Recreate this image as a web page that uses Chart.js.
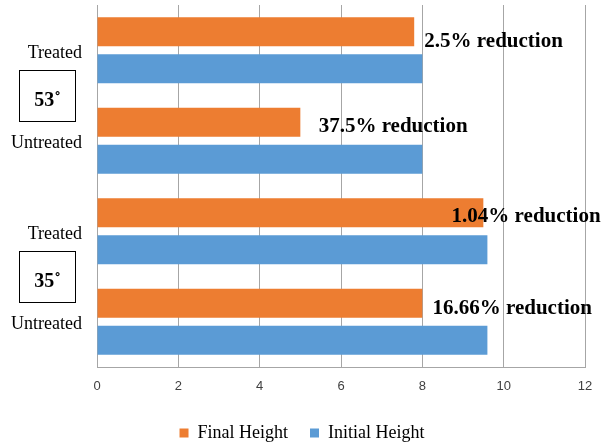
<!DOCTYPE html>
<html>
<head>
<meta charset="utf-8">
<script src="https://cdn.jsdelivr.net/npm/chart.js@4.4.1/dist/chart.umd.min.js"></script>
<style>
  html, body { margin: 0; padding: 0; background: #ffffff; }
  #wrap { width: 604px; height: 447px; }
</style>
</head>
<body>
<div id="wrap"><canvas id="c" width="604" height="447"></canvas></div>
<script>
// Plant heights before and after, per treatment and slope angle
const categories = ['Treated', 'Untreated', 'Treated', 'Untreated'];
const finalHeight = [7.8, 5, 9.5, 8];
const initialHeight = [8, 8, 9.6, 9.6];
const reductionLabels = ['2.5% reduction', '37.5% reduction', '1.04% reduction', '16.66% reduction'];
// where each reduction note starts, in axis units
const reductionAt = [8.05, 5.45, 8.72, 8.25];
// slope angle groups: each spans two categories
const angleGroups = ['53˚', '35˚'];
const xTicks = [0, 2, 4, 6, 8, 10, 12];

const serif = '"Liberation Serif", "Times New Roman", serif';
// vertical nudge of each note below its orange bar's centre (px)
const noteShift = [10, 4, 4, 5];

const notesPlugin = {
  id: 'notes',
  afterDatasetsDraw(chart) {
    const ctx = chart.ctx;
    const xs = chart.scales.x;
    const ys = chart.scales.y;
    const meta = chart.getDatasetMeta(0);
    ctx.save();
    ctx.fillStyle = '#000000';
    ctx.font = 'bold 21px ' + serif;
    ctx.textAlign = 'left';
    ctx.textBaseline = 'middle';
    reductionLabels.forEach((t, i) => {
      const bar = meta.data[i];
      ctx.fillText(t, xs.getPixelForValue(reductionAt[i]), bar.y + noteShift[i]);
    });
    // angle boxes on the left, between the two categories of each group
    ctx.font = 'bold 20px ' + serif;
    ctx.textAlign = 'center';
    ctx.strokeStyle = '#000000';
    ctx.lineWidth = 1;
    angleGroups.forEach((t, g) => {
      const yc = (ys.getPixelForValue(g * 2) + ys.getPixelForValue(g * 2 + 1)) / 2;
      const left = 19.5, w = 56, h = 51;
      ctx.strokeRect(left, Math.round(yc - h / 2) + 0.5, w, h);
      ctx.fillText(t, left + w / 2, yc + 5);
    });
    ctx.restore();
  }
};

new Chart(document.getElementById('c'), {
  type: 'bar',
  data: {
    labels: categories,
    datasets: [
      { label: 'Final Height', data: finalHeight, backgroundColor: '#ED7D31', categoryPercentage: 0.818, barPercentage: 0.784 },
      { label: 'Initial Height', data: initialHeight, backgroundColor: '#5B9BD5', categoryPercentage: 0.818, barPercentage: 0.784 }
    ]
  },
  options: {
    indexAxis: 'y',
    responsive: false,
    animation: false,
    layout: { padding: { left: 0, right: 0, top: 5, bottom: -5 } },
    scales: {
      x: {
        min: 0, max: 12,
        afterBuildTicks(scale) { scale.ticks = xTicks.map(v => ({ value: v })); },
        grid: { color: '#A6A6A6', lineWidth: 1, drawTicks: false },
        border: { display: true, color: '#A6A6A6' },
        ticks: { color: '#404040', font: { family: '"Liberation Sans", Arial, sans-serif', size: 13 }, padding: 12 },
        afterFit(scale) { scale.height = 35; scale.paddingRight = 19; scale.paddingLeft = 0; }
      },
      y: {
        grid: { display: false, drawTicks: false },
        border: { display: true, color: '#A6A6A6' },
        ticks: { color: '#000000', font: { family: serif, size: 18 }, padding: 15, labelOffset: 3 },
        afterFit(scale) { scale.width = 97; scale.paddingTop = 0; scale.paddingBottom = 0; }
      }
    },
    plugins: {
      legend: {
        position: 'bottom',
        labels: {
          color: '#000000',
          font: { family: serif, size: 18 },
          boxWidth: 9, boxHeight: 9,
          padding: 22
        }
      },
      tooltip: { enabled: false }
    }
  },
  plugins: [notesPlugin]
});
</script>
</body>
</html>
